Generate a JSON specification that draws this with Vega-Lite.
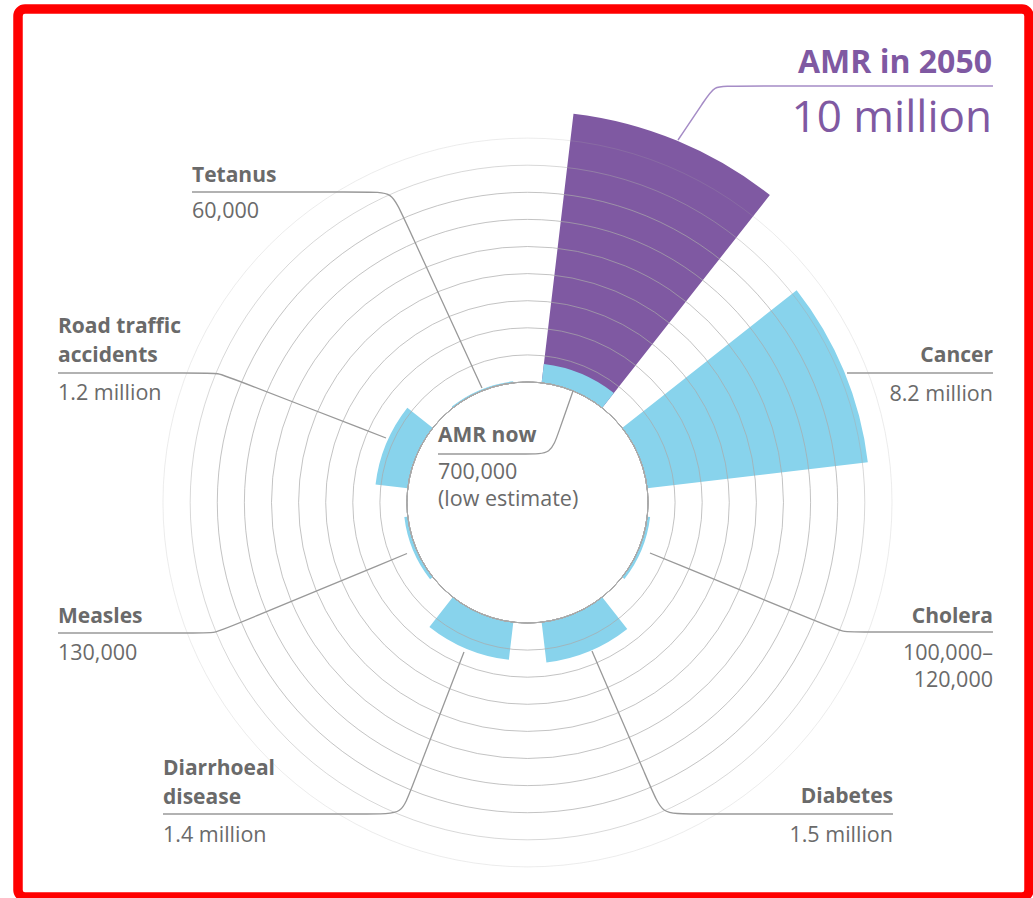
{
  "$schema": "https://vega.github.io/schema/vega-lite/v6.json",
  "width": 1033,
  "height": 898,
  "autosize": {"type": "fit", "contains": "padding"},
  "padding": {"left": 18, "top": 9, "right": 4, "bottom": 1},
  "background": "white",
  "config": {"view": {"stroke": "#ff0000", "strokeWidth": 9.5, "cornerRadius": 7}},
  "datasets": {
    "causes": [
      {"cause": "AMR", "deaths": 0.7},
      {"cause": "Cancer", "deaths": 8.2},
      {"cause": "Cholera", "deaths": 0.11},
      {"cause": "Diabetes", "deaths": 1.5},
      {"cause": "Diarrhoeal disease", "deaths": 1.4},
      {"cause": "Measles", "deaths": 0.13},
      {"cause": "Road traffic accidents", "deaths": 1.2},
      {"cause": "Tetanus", "deaths": 0.06}
    ],
    "future": [{"cause": "AMR", "deaths": 10}],
    "rings": [
      {"ring": 0}, {"ring": 1}, {"ring": 2}, {"ring": 3}, {"ring": 4},
      {"ring": 5}, {"ring": 6}, {"ring": 7}, {"ring": 8}, {"ring": 9}
    ],
    "leaders": [
      {"cause": "AMR", "seq": 0, "x": -3.303, "y": 1.79},
      {"cause": "AMR", "seq": 1, "x": 0.092, "y": 1.79},
      {"cause": "AMR", "seq": 2, "x": 0.867, "y": 1.79},
      {"cause": "AMR", "seq": 3, "x": 1.125, "y": 2.528},
      {"cause": "AMR", "seq": 4, "x": 1.679, "y": 4.114},
      {"cause": "Tetanus", "seq": 0, "x": -12.38, "y": 11.458},
      {"cause": "Tetanus", "seq": 1, "x": -5.812, "y": 11.458},
      {"cause": "Tetanus", "seq": 2, "x": -5.0, "y": 11.458},
      {"cause": "Tetanus", "seq": 3, "x": -4.631, "y": 10.646},
      {"cause": "Tetanus", "seq": 4, "x": -1.679, "y": 4.225},
      {"cause": "Road traffic accidents", "seq": 0, "x": -17.325, "y": 4.779},
      {"cause": "Road traffic accidents", "seq": 1, "x": -11.9, "y": 4.779},
      {"cause": "Road traffic accidents", "seq": 2, "x": -11.421, "y": 4.779},
      {"cause": "Road traffic accidents", "seq": 3, "x": -10.978, "y": 4.613},
      {"cause": "Road traffic accidents", "seq": 4, "x": -5.221, "y": 2.38},
      {"cause": "Measles", "seq": 0, "x": -17.325, "y": -4.815},
      {"cause": "Measles", "seq": 1, "x": -12.085, "y": -4.815},
      {"cause": "Measles", "seq": 2, "x": -11.531, "y": -4.815},
      {"cause": "Measles", "seq": 3, "x": -11.015, "y": -4.601},
      {"cause": "Measles", "seq": 4, "x": -4.446, "y": -1.882},
      {"cause": "Diarrhoeal disease", "seq": 0, "x": -13.45, "y": -11.494},
      {"cause": "Diarrhoeal disease", "seq": 1, "x": -5.517, "y": -11.494},
      {"cause": "Diarrhoeal disease", "seq": 2, "x": -4.631, "y": -11.494},
      {"cause": "Diarrhoeal disease", "seq": 3, "x": -4.336, "y": -10.683},
      {"cause": "Diarrhoeal disease", "seq": 4, "x": -2.343, "y": -5.517},
      {"cause": "Diabetes", "seq": 0, "x": 13.487, "y": -11.494},
      {"cause": "Diabetes", "seq": 1, "x": 5.812, "y": -11.494},
      {"cause": "Diabetes", "seq": 2, "x": 4.963, "y": -11.494},
      {"cause": "Diabetes", "seq": 3, "x": 4.594, "y": -10.609},
      {"cause": "Diabetes", "seq": 4, "x": 2.38, "y": -5.48},
      {"cause": "Cholera", "seq": 0, "x": 17.177, "y": -4.779},
      {"cause": "Cholera", "seq": 1, "x": 12.196, "y": -4.779},
      {"cause": "Cholera", "seq": 2, "x": 11.642, "y": -4.779},
      {"cause": "Cholera", "seq": 3, "x": 11.125, "y": -4.572},
      {"cause": "Cholera", "seq": 4, "x": 4.52, "y": -1.863},
      {"cause": "Cancer", "seq": 0, "x": 17.177, "y": 4.779},
      {"cause": "Cancer", "seq": 1, "x": 11.79, "y": 4.779}
    ],
    "futureLeader": [
      {"cause": "AMR 2050", "seq": 0, "x": 17.177, "y": 15.369},
      {"cause": "AMR 2050", "seq": 1, "x": 7.472, "y": 15.369},
      {"cause": "AMR 2050", "seq": 2, "x": 6.882, "y": 15.369},
      {"cause": "AMR 2050", "seq": 3, "x": 6.55, "y": 14.852},
      {"cause": "AMR 2050", "seq": 4, "x": 5.554, "y": 13.376}
    ],
    "labels": [
      {"cause": "AMR", "name": "AMR now", "value": ["700,000", "(low estimate)"], "x": -3.303, "ny": 2.232, "vy": 0.867, "side": "left"},
      {"cause": "Tetanus", "name": "Tetanus", "value": "60,000", "x": -12.38, "ny": 11.827, "vy": 10.498, "side": "left"},
      {"cause": "Road traffic accidents", "name": ["Road traffic", "accidents"], "value": "1.2 million", "x": -17.325, "ny": 6.255, "vy": 3.782, "side": "left"},
      {"cause": "Measles", "name": "Measles", "value": "130,000", "x": -17.325, "ny": -4.446, "vy": -5.812, "side": "left"},
      {"cause": "Diarrhoeal disease", "name": ["Diarrhoeal", "disease"], "value": "1.4 million", "x": -13.45, "ny": -10.055, "vy": -12.528, "side": "left"},
      {"cause": "Diabetes", "name": "Diabetes", "value": "1.5 million", "x": 13.487, "ny": -11.089, "vy": -12.528, "side": "right"},
      {"cause": "Cholera", "name": "Cholera", "value": ["100,000–", "120,000"], "x": 17.177, "ny": -4.446, "vy": -5.812, "side": "right"},
      {"cause": "Cancer", "name": "Cancer", "value": "8.2 million", "x": 17.177, "ny": 5.185, "vy": 3.745, "side": "right"}
    ],
    "futureLabel": [
      {"name": "AMR in 2050", "value": "10 million", "x": 17.14, "ny": 15.85, "vy": 13.67}
    ]
  },
  "layer": [
    {
      "data": {"name": "future"},
      "mark": {"type": "arc", "color": "#7f59a2"},
      "encoding": {
        "x": {"datum": 0, "type": "quantitative", "scale": {"domain": [-18.8, 18.506], "nice": false, "zero": false}, "axis": null},
        "y": {"datum": 0, "type": "quantitative", "scale": {"domain": [-14.557, 18.21], "nice": false, "zero": false}, "axis": null},
        "theta": {"field": "cause", "type": "nominal", "scale": {"type": "band", "domain": ["AMR", "Cancer", "Cholera", "Diabetes", "Diarrhoeal disease", "Measles", "Road traffic accidents", "Tetanus"], "paddingInner": 0.3, "paddingOuter": 0.15}},
        "radius": {"field": "deaths", "type": "quantitative", "stack": null, "scale": {"type": "linear", "domain": [-4.446, 10], "range": [0, 391.5], "zero": false, "nice": false}},
        "radius2": {"datum": 0}
      }
    },
    {
      "data": {"name": "causes"},
      "mark": {"type": "arc", "color": "#88d3ec"},
      "encoding": {
        "x": {"datum": 0, "type": "quantitative", "scale": {"domain": [-18.8, 18.506], "nice": false, "zero": false}, "axis": null},
        "y": {"datum": 0, "type": "quantitative", "scale": {"domain": [-14.557, 18.21], "nice": false, "zero": false}, "axis": null},
        "theta": {"field": "cause", "type": "nominal", "scale": {"type": "band", "domain": ["AMR", "Cancer", "Cholera", "Diabetes", "Diarrhoeal disease", "Measles", "Road traffic accidents", "Tetanus"], "paddingInner": 0.3, "paddingOuter": 0.15}},
        "radius": {"field": "deaths", "type": "quantitative", "stack": null, "scale": {"type": "linear", "domain": [-4.446, 10], "range": [0, 391.5], "zero": false, "nice": false}},
        "radius2": {"datum": 0}
      }
    },
    {
      "data": {"name": "rings"},
      "mark": {"type": "arc", "filled": false, "stroke": "#a9a9a9", "strokeWidth": 1, "theta": 0, "theta2": 6.2832},
      "encoding": {
        "x": {"datum": 0, "type": "quantitative", "scale": {"domain": [-18.8, 18.506], "nice": false, "zero": false}, "axis": null},
        "y": {"datum": 0, "type": "quantitative", "scale": {"domain": [-14.557, 18.21], "nice": false, "zero": false}, "axis": null},
        "radius": {"field": "ring", "type": "quantitative", "stack": null, "scale": {"type": "linear", "domain": [-4.446, 10], "range": [0, 391.5], "zero": false, "nice": false}},
        "strokeOpacity": {"field": "ring", "type": "quantitative", "scale": {"domain": [7, 9], "range": [0.7, 0.22], "clamp": true}, "legend": null}
      }
    },
    {
      "data": {"name": "leaders"},
      "mark": {"type": "line", "interpolate": "basis", "stroke": "#999999", "strokeWidth": 1.3},
      "encoding": {
        "x": {"field": "x", "type": "quantitative", "scale": {"domain": [-18.8, 18.506], "nice": false, "zero": false}, "axis": null},
        "y": {"field": "y", "type": "quantitative", "scale": {"domain": [-14.557, 18.21], "nice": false, "zero": false}, "axis": null},
        "detail": {"field": "cause"},
        "order": {"field": "seq", "type": "quantitative"}
      }
    },
    {
      "data": {"name": "futureLeader"},
      "mark": {"type": "line", "interpolate": "basis", "stroke": "#a58cc6", "strokeWidth": 1.5},
      "encoding": {
        "x": {"field": "x", "type": "quantitative", "scale": {"domain": [-18.8, 18.506], "nice": false, "zero": false}, "axis": null},
        "y": {"field": "y", "type": "quantitative", "scale": {"domain": [-14.557, 18.21], "nice": false, "zero": false}, "axis": null},
        "detail": {"field": "cause"},
        "order": {"field": "seq", "type": "quantitative"}
      }
    },
    {
      "data": {"name": "labels"},
      "transform": [{"filter": "datum.side === 'left'"}],
      "mark": {"type": "text", "align": "left", "baseline": "alphabetic", "font": "Open Sans", "fontSize": 21, "fontWeight": "bold", "color": "#6a6a6a", "lineHeight": 29},
      "encoding": {
        "x": {"field": "x", "type": "quantitative", "scale": {"domain": [-18.8, 18.506], "nice": false, "zero": false}, "axis": null},
        "y": {"field": "ny", "type": "quantitative", "scale": {"domain": [-14.557, 18.21], "nice": false, "zero": false}, "axis": null},
        "text": {"field": "name"}
      }
    },
    {
      "data": {"name": "labels"},
      "transform": [{"filter": "datum.side === 'right'"}],
      "mark": {"type": "text", "align": "right", "baseline": "alphabetic", "font": "Open Sans", "fontSize": 21, "fontWeight": "bold", "color": "#6a6a6a", "lineHeight": 29},
      "encoding": {
        "x": {"field": "x", "type": "quantitative", "scale": {"domain": [-18.8, 18.506], "nice": false, "zero": false}, "axis": null},
        "y": {"field": "ny", "type": "quantitative", "scale": {"domain": [-14.557, 18.21], "nice": false, "zero": false}, "axis": null},
        "text": {"field": "name"}
      }
    },
    {
      "data": {"name": "labels"},
      "transform": [{"filter": "datum.side === 'left'"}],
      "mark": {"type": "text", "align": "left", "baseline": "alphabetic", "font": "Open Sans", "fontSize": 21.5, "fontWeight": 500, "color": "#6a6a6a", "lineHeight": 26.5},
      "encoding": {
        "x": {"field": "x", "type": "quantitative", "scale": {"domain": [-18.8, 18.506], "nice": false, "zero": false}, "axis": null},
        "y": {"field": "vy", "type": "quantitative", "scale": {"domain": [-14.557, 18.21], "nice": false, "zero": false}, "axis": null},
        "text": {"field": "value"}
      }
    },
    {
      "data": {"name": "labels"},
      "transform": [{"filter": "datum.side === 'right'"}],
      "mark": {"type": "text", "align": "right", "baseline": "alphabetic", "font": "Open Sans", "fontSize": 21.5, "fontWeight": 500, "color": "#6a6a6a", "lineHeight": 26.5},
      "encoding": {
        "x": {"field": "x", "type": "quantitative", "scale": {"domain": [-18.8, 18.506], "nice": false, "zero": false}, "axis": null},
        "y": {"field": "vy", "type": "quantitative", "scale": {"domain": [-14.557, 18.21], "nice": false, "zero": false}, "axis": null},
        "text": {"field": "value"}
      }
    },
    {
      "data": {"name": "futureLabel"},
      "mark": {"type": "text", "align": "right", "baseline": "alphabetic", "font": "Open Sans", "fontSize": 32, "fontWeight": "bold", "color": "#7f59a2"},
      "encoding": {
        "x": {"field": "x", "type": "quantitative", "scale": {"domain": [-18.8, 18.506], "nice": false, "zero": false}, "axis": null},
        "y": {"field": "ny", "type": "quantitative", "scale": {"domain": [-14.557, 18.21], "nice": false, "zero": false}, "axis": null},
        "text": {"field": "name"}
      }
    },
    {
      "data": {"name": "futureLabel"},
      "mark": {"type": "text", "align": "right", "baseline": "alphabetic", "font": "Open Sans", "fontSize": 44, "color": "#7f59a2"},
      "encoding": {
        "x": {"field": "x", "type": "quantitative", "scale": {"domain": [-18.8, 18.506], "nice": false, "zero": false}, "axis": null},
        "y": {"field": "vy", "type": "quantitative", "scale": {"domain": [-14.557, 18.21], "nice": false, "zero": false}, "axis": null},
        "text": {"field": "value"}
      }
    }
  ]
}
